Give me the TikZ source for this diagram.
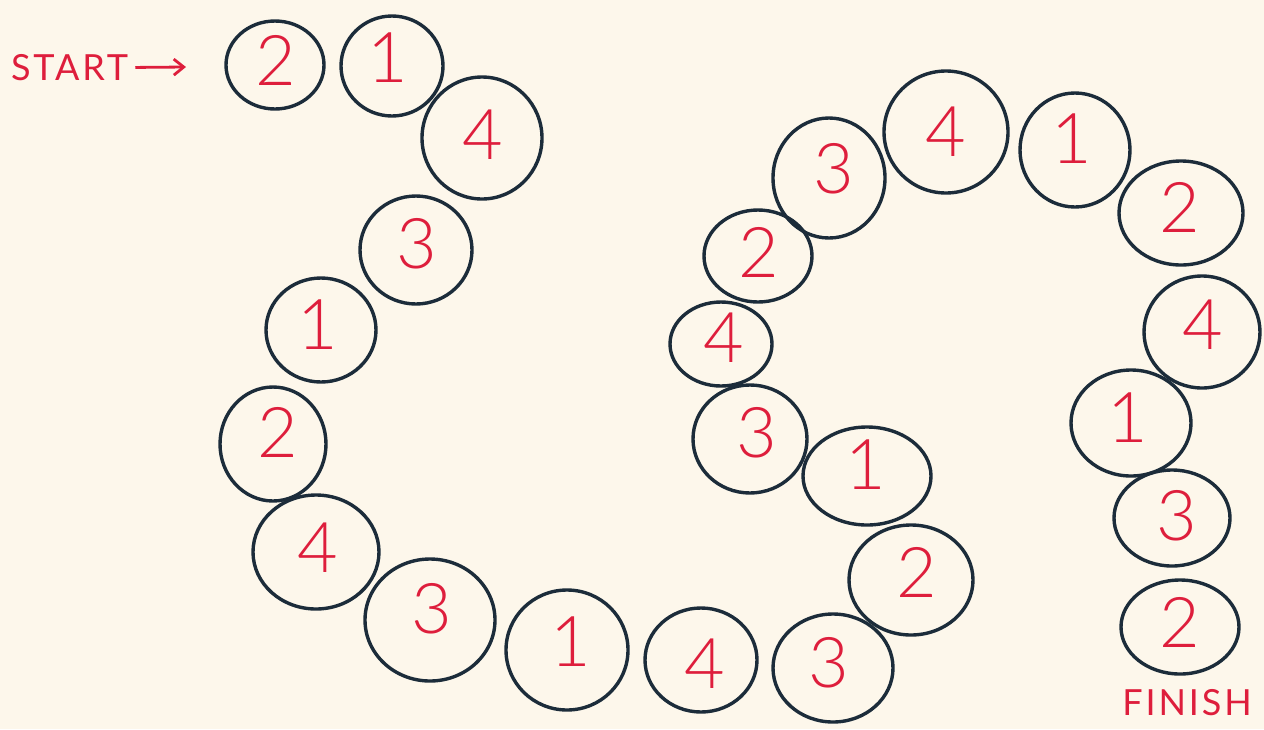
\documentclass[tikz,border=0pt]{standalone}
\usepackage{fontspec}
\newfontfamily\handfont{Lato Light}
\newfontfamily\letterfont{Lato}
\usetikzlibrary{shapes.geometric,arrows.meta}
\definecolor{paper}{RGB}{253,247,235}
\definecolor{inkblue}{RGB}{28,44,58}
\definecolor{penred}{RGB}{222,30,60}
\tikzset{
  blob/.style={ellipse, draw=inkblue, line width=1.7pt, inner sep=0pt},
  digit/.style={text=penred, inner sep=0pt, font=\handfont\fontsize{35}{35}\selectfont},
  caption/.style={text=penred, font=\letterfont\addfontfeature{LetterSpace=8}\fontsize{18}{18}\selectfont}
}
\begin{document}
\begin{tikzpicture}[x=0.5pt,y=-0.5pt]
  % sheet of paper, 1264 x 729
  \fill[paper] (0,0) rectangle (1264,729);
  \useasboundingbox (0,0) rectangle (1264,729);

  % squares of the track: no. / centre / half axes / number / where the number sits
  \foreach \n/\x/\y/\rx/\ry/\d/\dx/\dy in {
      1/275/65/52/47/2/276/60,
      2/392/66/54/53/1/388/58,
      3/482/138/63/64/4/483/135,
      4/416/250/59/57/3/417/244,
      5/321/330/58/55/1/318/325,
      6/273/444/56/60/2/278/432,
      7/316/552/66/60/4/318/548,
      8/430/620/68/64/3/432/609,
      9/567/650/64/63/1/571/642,
      10/701/660/59/55/4/705/664,
      11/833/668/63/57/3/829/663,
      12/911/580/65/58/2/917/572,
      13/867/476/67/52/1/866/465,
      14/750/439/60/57/3/757/433,
      15/721/344/54/45/4/724/338,
      16/758/256/57/49/2/759/252,
      17/829/178/59/63/3/834/169,
      18/946/132/65/64/4/946/132,
      19/1075/150/58/60/1/1072/139,
      20/1181/213/65/55/2/1180/207,
      21/1202/332/61/59/4/1203/325,
      22/1131/423/63/56/1/1128/418,
      23/1172/518/61/51/3/1177/516,
      24/1180/627/62/50/2/1180/622}
  {
    \node[blob, minimum width={(\rx-3)*1pt}, minimum height={(\ry-3)*1pt}] (b\n) at (\x,\y) {};
    \node[digit] (d\n) at (\dx,\dy) {\d};
  }

  % start and finish
  \node[caption, anchor=west] (start) at (4,68) {START};
  \coordinate (entry) at (186,67);
  \draw[penred, line width=1.4pt, -{Straight Barb[length=5pt,width=8pt]}] (start) -- (entry);
  \node[caption] (finish) at (1187,703) {FINISH};
\end{tikzpicture}
\end{document}
